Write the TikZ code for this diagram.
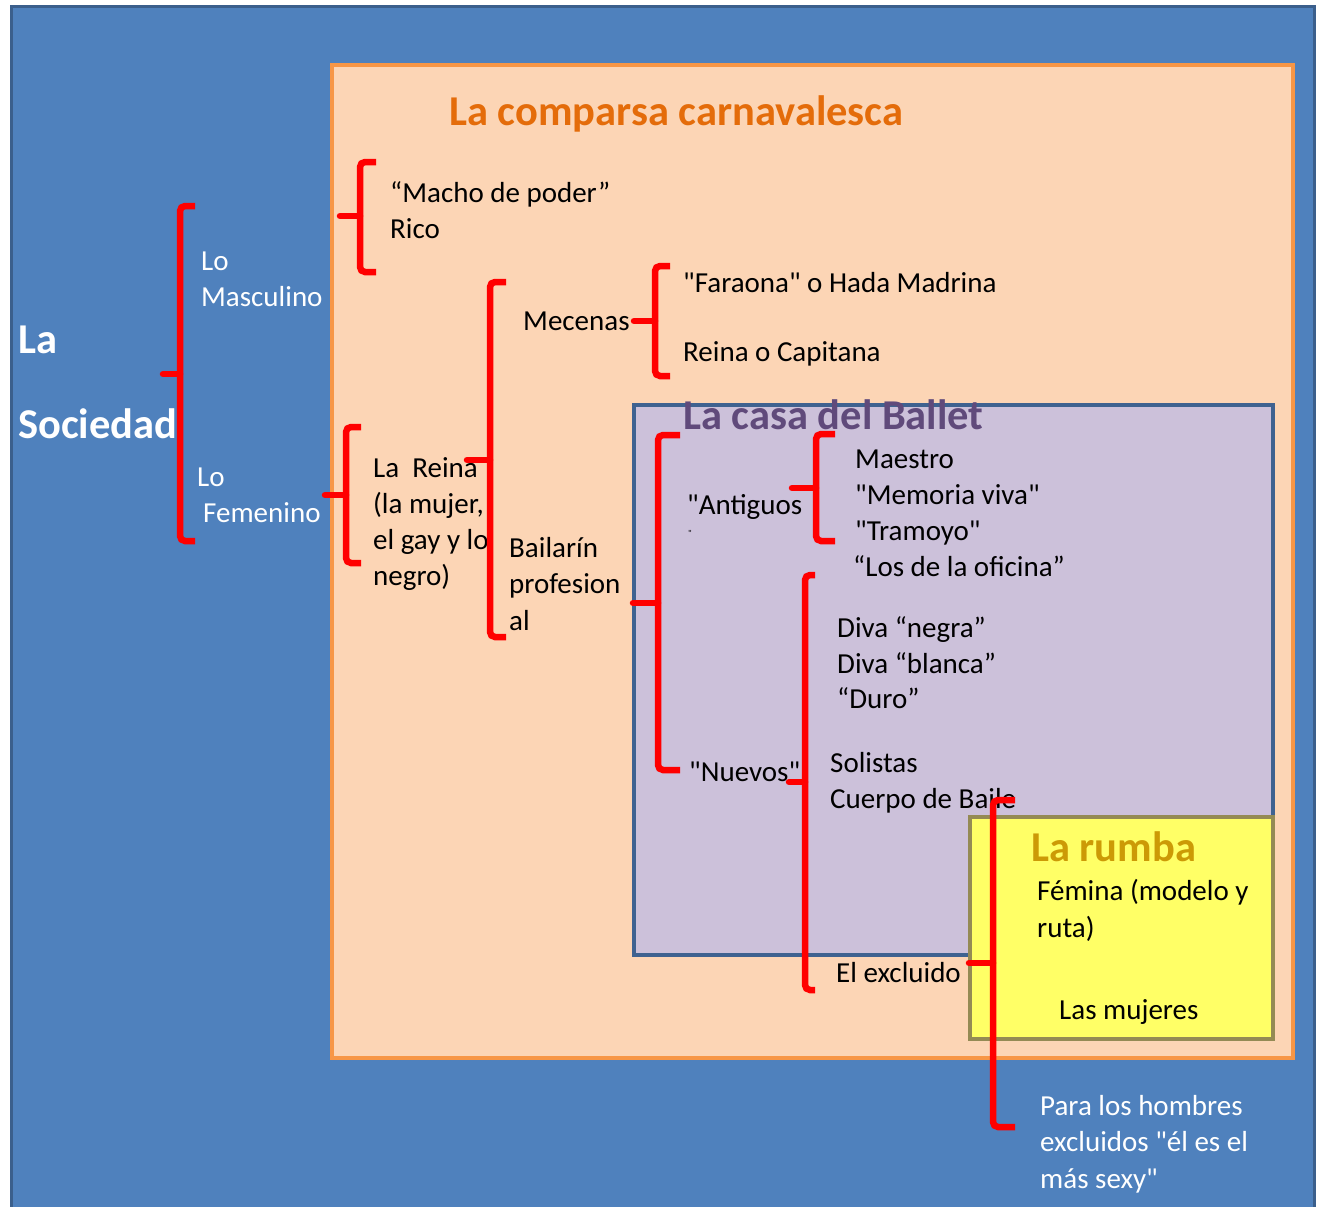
\documentclass[tikz,border=0pt]{standalone}
\usepackage{fontspec}
\setmainfont{Carlito}[Ligatures=TeXOff]
\definecolor{socfill}{HTML}{4F81BD}
\definecolor{socline}{HTML}{3B5F8C}
\definecolor{comfill}{HTML}{FCD5B5}
\definecolor{comline}{HTML}{F79646}
\definecolor{balfill}{HTML}{CCC1DA}
\definecolor{balline}{HTML}{3F6290}
\definecolor{rumfill}{HTML}{FFFF66}
\definecolor{rumline}{HTML}{948A54}
\definecolor{comtitle}{HTML}{E46C0A}
\definecolor{baltitle}{HTML}{604A7B}
\definecolor{rumtitle}{HTML}{CC9A06}
\definecolor{brkred}{HTML}{FF0000}
\tikzset{
  body/.style={anchor=base west, inner sep=0pt, font=\fontsize{29}{36}\selectfont, text=black},
  wbody/.style={body, text=white},
  ttl/.style={anchor=base west, inner sep=0pt, font=\fontsize{42.5}{50}\selectfont\bfseries},
  brk/.style={draw=brkred, line width=6.5pt, rounded corners=5pt},
  tip/.style={draw=brkred, line width=6.5pt, line cap=round}
}
\newcommand{\rbrk}[6]{%
  \draw[brk] (#6,#2) -- (#1,#2) -- (#1,#3) -- (#6,#3);
  \draw[tip] (#5,#4) -- (#1,#4);
}
\begin{document}
\begin{tikzpicture}[x=1pt,y=-1pt]
\useasboundingbox (0,0) rectangle (1317,1207);
\fill[white] (0,0) rectangle (1317,1207);
% boxes
\begin{scope}
\clip (0,0) rectangle (1317,1207);
\draw[fill=socfill, draw=socline, line width=3pt] (11,7) rectangle (1314,1230);
\end{scope}
\draw[fill=comfill, draw=comline, line width=4pt] (332,65) rectangle (1293,1058);
\draw[fill=balfill, draw=balline, line width=4pt] (634,405) rectangle (1273,955);
\draw[fill=rumfill, draw=rumline, line width=4.5pt] (970,817) rectangle (1273,1039);
% titles
\node[ttl, text=comtitle] (tcom) at (449,125) {La comparsa carnavalesca};
\node[ttl, text=baltitle] (tbal) at (683,429) {La casa del Ballet};
\node[ttl, text=rumtitle] (trum) at (1031,861) {La rumba};
\node[ttl, text=white] (tla) at (18,353) {La};
\node[ttl, text=white] (tsoc) at (18,438) {Sociedad};
% society level
\node[wbody] (lo1) at (201,270) {Lo};
\node[wbody] (masc) at (201,306) {Masculino};
\node[wbody] (lo2) at (197,486) {Lo};
\node[wbody] (fem) at (203,522) {Femenino};
% comparsa
\node[body] (macho) at (390,202) {“Macho de poder”};
\node[body] (rico) at (390,238) {Rico};
\node[body] (reina1) at (373,477) {La\ \ Reina};
\node[body] (reina2) at (373,513) {(la mujer,};
\node[body] (reina3) at (373,549) {el gay y lo};
\node[body] (reina4) at (373,585) {negro)};
\node[body] (mec) at (523,330) {Mecenas};
\node[body] (fara) at (683,292) {"Faraona" o Hada Madrina};
\node[body] (capi) at (683,361) {Reina o Capitana};
\node[body] (bail1) at (509,557) {Bailarín};
\node[body] (bail2) at (509,593) {profesion};
\node[body] (bail3) at (509,630) {al};
% ballet
\node[body] (anti) at (687,514) {"Antiguos};
\node[anchor=base west, inner sep=0pt, font=\fontsize{9}{9}\selectfont] (antim) at (688,536) {"};
\node[body] (maes) at (855,468) {Maestro};
\node[body] (memo) at (855,504) {"Memoria viva"};
\node[body] (tram) at (855,540) {"Tramoyo"};
\node[body] (ofi) at (853,576) {“Los de la oficina”};
\node[body] (divan) at (837,637) {Diva “negra”};
\node[body] (divab) at (837,673) {Diva “blanca”};
\node[body] (duro) at (837,708) {“Duro”};
\node[body] (nuev) at (689,781) {"Nuevos"};
\node[body] (soli) at (830,772) {Solistas};
\node[body] (cuer) at (830,808) {Cuerpo de Baile};
\node[body] (excl) at (836,982) {El excluido};
% rumba
\node[body] (fem1) at (1037,900) {Fémina (modelo y};
\node[body] (fem2) at (1037,937) {ruta)};
\node[body] (muje) at (1059,1019) {Las mujeres};
\node[wbody] (para1) at (1040,1115) {Para los hombres};
\node[wbody] (para2) at (1040,1151) {excluidos "él es el};
\node[wbody] (para3) at (1040,1188) {más sexy"};
% brackets: x, top, bottom, tipy, tipx, hookx
\rbrk{180}{206}{541}{374}{163}{195}
\rbrk{360}{162}{272}{216}{340}{376}
\rbrk{346}{427}{563}{495}{325}{361}
\rbrk{490}{282}{637}{460}{467}{506}
\rbrk{655}{266}{376}{321}{634}{670}
\rbrk{658}{435}{770}{603}{633}{680}
\rbrk{816}{434}{541}{488}{792}{835}
\rbrk{805}{575}{990}{782}{789}{815}
\rbrk{993}{800}{1127}{963}{969}{1015}
\end{tikzpicture}
\end{document}
